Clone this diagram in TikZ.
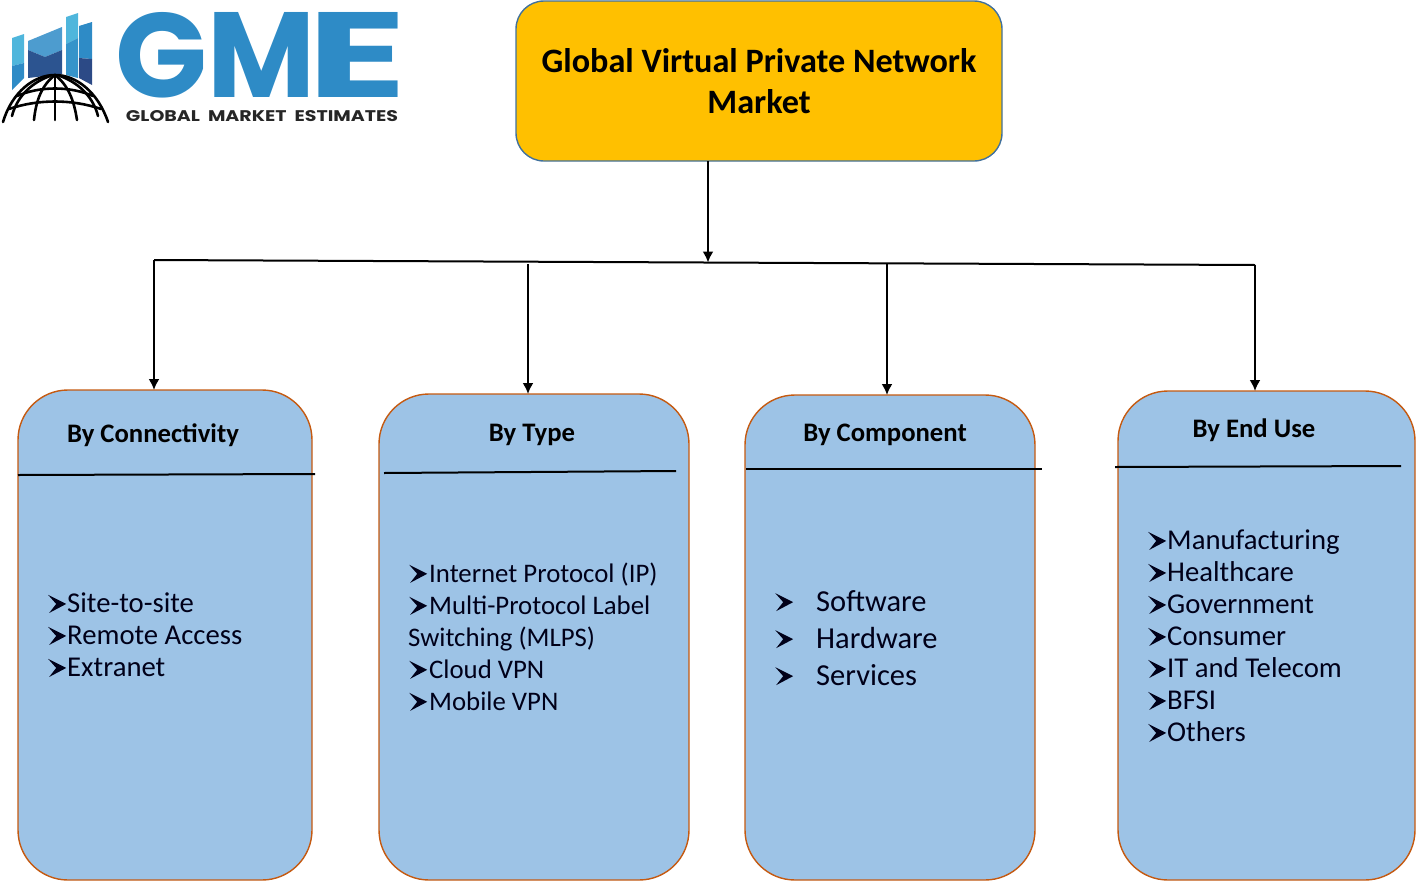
\documentclass[tikz,border=0pt]{standalone}
\usepackage{fontspec}
\setmainfont{Carlito}
\newfontfamily\logofont{Poppins}
\definecolor{boxblue}{HTML}{9DC3E6}
\definecolor{boxedge}{HTML}{C55A11}
\definecolor{titleyellow}{HTML}{FFC000}
\definecolor{titleedge}{HTML}{41719C}
\definecolor{logoblue}{HTML}{2E8BC6}
\definecolor{logosky}{HTML}{4FB6DC}
\definecolor{logonavy}{HTML}{2C4A86}
\newcommand{\bul}[1][19pt]{\makebox[#1][l]{\tikz[x=1pt,y=1pt,baseline=0pt]\fill (0,18) -- (18,9) -- (1,0) -- (8,9) -- cycle;}}
\tikzset{
  segbox/.style={draw=boxedge, fill=boxblue, line width=1.4pt, rounded corners=50pt, outer sep=0pt, inner sep=0pt},
  seghead/.style={font=\fontsize{26.7}{30}\selectfont\bfseries, inner sep=0pt},
  seglist/.style={font=\fontsize{28.7}{32}\selectfont, align=left, anchor=north west, inner sep=0pt, text=black!90!blue},
  rule/.style={line width=2pt},
  flow/.style={line width=2pt, -{Latex[length=11pt,width=11pt]}},
  gridline/.style={line width=2.6pt, line cap=round}
}
\usetikzlibrary{arrows.meta}
\begin{document}
\begin{tikzpicture}[x=1pt,y=-1pt]
\useasboundingbox (0,0) rectangle (1416,881);
% logo bars
\fill[logosky] (12,38) -- (24,34) -- (24,63) -- (12,66) -- cycle;
\fill[logoblue] (12,66) -- (24,63) -- (24,78) -- (12,90) -- cycle;
\fill[logoblue!85!white] (28,41) -- (62,27) -- (62,50) -- (45,57) -- (28,50) -- cycle;
\fill[logonavy!85!logoblue] (28,50) -- (45,57) -- (62,50) -- (62,74) -- (28,78) -- cycle;
\fill[logosky] (66,17) -- (78,13) -- (78,38) -- (66,44) -- cycle;
\fill[logoblue!80!logosky] (66,44) -- (78,38) -- (78,78) -- (66,75) -- cycle;
\fill[logoblue] (79,26) -- (92,22) -- (92,59) -- (79,58) -- cycle;
\fill[logonavy] (79,58) -- (92,59) -- (92,85) -- (79,78) -- cycle;
% logo globe
\fill[white] (3,122) .. controls (12,92) and (34,75) .. (55,75) .. controls (76,75) and (98,92) .. (108,122) -- cycle;
\draw[gridline] (3,122) .. controls (12,92) and (34,75) .. (55,75) .. controls (76,75) and (98,92) .. (108,122);
\draw[gridline] (17,96) .. controls (40,86) and (70,86) .. (93,96);
\draw[gridline] (9,109) .. controls (38,99) and (72,99) .. (101,109);
\draw[gridline] (55,75) -- (55,120);
\draw[gridline] (55,75) .. controls (42,85) and (36,100) .. (34,120);
\draw[gridline] (55,75) .. controls (68,85) and (74,100) .. (77,120);
\draw[gridline] (50,76) .. controls (28,84) and (16,100) .. (12,116);
\draw[gridline] (60,76) .. controls (82,84) and (94,100) .. (98,116);
\node[inner sep=0pt, text=logoblue] (gme) at (261,55.5) {\logofont\bfseries\resizebox{92pt}{85pt}{G}\resizebox{108pt}{85pt}{M}\hspace{-8pt}\resizebox{99.5pt}{85pt}{E}};
\node[inner sep=0pt, text=black!85] (gmetag) at (262,116) {\resizebox{272pt}{11pt}{\logofont\bfseries GLOBAL\ \ MARKET\ \ ESTIMATES}};
% title and branches
\node[draw=titleedge, fill=titleyellow, line width=1.4pt, rounded corners=28pt, minimum width=486pt, minimum height=160pt, outer sep=0pt] (title) at (759,81) {};
\node[font=\fontsize{34.2}{41}\selectfont\bfseries, align=center, inner sep=0pt] (titletext) at (759,81) {Global Virtual Private Network\\Market};
\node[segbox, minimum width=294pt, minimum height=490pt] (conn) at (165,635) {};
\node[segbox, minimum width=310pt, minimum height=486pt] (type) at (534,637) {};
\node[segbox, minimum width=290pt, minimum height=485pt] (comp) at (890,637.5) {};
\node[segbox, minimum width=297pt, minimum height=489pt] (enduse) at (1266.5,635.5) {};
\coordinate (trunk) at (708,262.5);
\coordinate (left) at (154,260);
\coordinate (typeturn) at (528,264);
\coordinate (compturn) at (887,264);
\coordinate (right) at (1255,265);
\draw[flow] (title.south -| trunk) -- (trunk);
\draw[rule] (left) -- (right);
\draw[flow] (left) -- (conn.north -| left);
\draw[flow] (typeturn) -- (type.north -| typeturn);
\draw[flow] (compturn) -- (comp.north -| compturn);
\draw[flow] (right) -- (enduse.north -| right);
% box headers
\node[seghead] (connhead) at (153,435) {By Connectivity};
\node[seghead] (typehead) at (532,435) {By Type};
\node[seghead] (comphead) at (885,435) {By Component};
\node[seghead] (enduhead) at (1254,430) {By End Use};
\coordinate (c1) at (18,475); \coordinate (c2) at (315,474);
\coordinate (t1) at (384,473); \coordinate (t2) at (676,471);
\coordinate (p1) at (746,469); \coordinate (p2) at (1042,469);
\coordinate (e1) at (1115,467); \coordinate (e2) at (1401,466);
\draw[rule] (c1) -- (c2);
\draw[rule] (t1) -- (t2);
\draw[rule] (p1) -- (p2);
\draw[rule] (e1) -- (e2);
% box contents
\node[seglist] (connlist) at (48,593) {\bul Site-to-site\\\bul Remote Access\\\bul Extranet};
\node[seglist, font=\fontsize{26.8}{32}\selectfont] (typelist) at (409,563) {\bul[20pt]Internet Protocol (IP)\\\bul[20pt]Multi-Protocol Label\\\hspace{-1pt}Switching (MLPS)\\\bul[20pt]Cloud VPN\\\bul[20pt]Mobile VPN};
\node[seglist, font=\fontsize{30.5}{32}\selectfont] (complist) at (775,590) {\bul[41pt]Software\\[5pt]\bul[41pt]Hardware\\[5pt]\bul[41pt]Services};
\node[seglist] (endulist) at (1148,530) {\bul Manufacturing\\\bul Healthcare\\\bul Government\\\bul Consumer\\\bul IT and Telecom\\\bul BFSI\\\bul Others};
\end{tikzpicture}
\end{document}
